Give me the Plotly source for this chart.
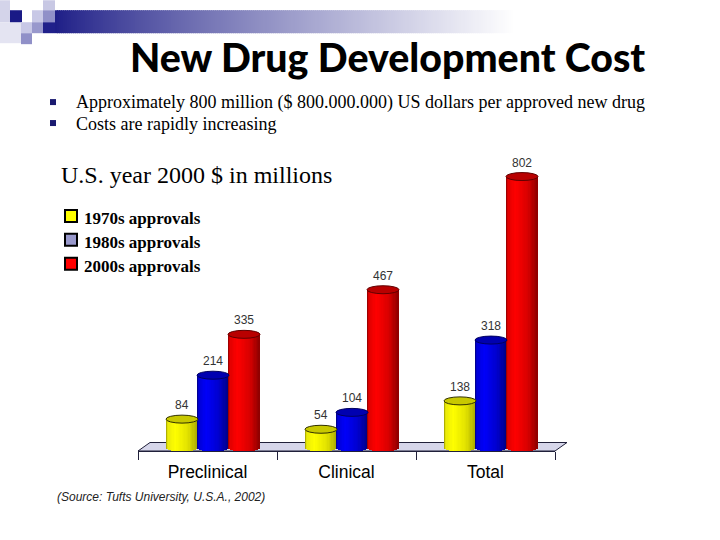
import plotly.graph_objects as go

categories = ["Preclinical", "Clinical", "Total"]
series_names = ["1970s approvals", "1980s approvals", "2000s approvals"]
approvals_1970s = [84, 54, 138]
approvals_1980s = [214, 104, 318]
approvals_2000s = [335, 467, 802]
series_values = [approvals_1970s, approvals_1980s, approvals_2000s]

W, H = 720, 540
L, R = 138, 555
Y0, PX = 448.0, 0.3384
AX_BOTTOM = 451.5
TOP = 150
ymin = -(AX_BOTTOM - Y0) / PX
ymax = (Y0 - TOP) / PX
UNIT = (R - L) / 3

SLOT_LEFT = [-41.5, -10.5, 20.5]
BAR_PX = 32
CAP_H = 4.0
STRIPS = 24


def lerp(a, b, t):
    return tuple(a[i] + (b[i] - a[i]) * t for i in range(3))


def shade(stops, t):
    for (t0, c0), (t1, c1) in zip(stops, stops[1:]):
        if t <= t1:
            c = lerp(c0, c1, (t - t0) / (t1 - t0))
            return "rgb(%d,%d,%d)" % c
    return "rgb(%d,%d,%d)" % stops[-1][1]


gradients = [
    [(0, (150, 150, 0)), (0.07, (235, 235, 10)), (0.3, (255, 255, 0)), (0.7, (225, 225, 0)), (1, (170, 170, 0))],
    [(0, (0, 0, 120)), (0.07, (0, 0, 215)), (0.3, (0, 0, 250)), (0.7, (0, 0, 205)), (1, (0, 0, 130))],
    [(0, (130, 0, 0)), (0.07, (225, 0, 0)), (0.3, (255, 0, 0)), (0.7, (215, 0, 0)), (1, (140, 0, 0))],
]
cap_colors = ["#c8c800", "#0000b0", "#b80000"]
cap_lines = ["#303000", "#000060", "#600000"]
swatch_colors = ["#ffff00", "#9999cc", "#ff0000"]

fig = go.Figure()
shapes = []
fx = lambda x: (x - L) / (R - L)
fy = lambda y: (AX_BOTTOM - y) / (AX_BOTTOM - TOP)


def px_rect(x0, y0, x1, y1, fill, line=None, lw=0, layer="below"):
    return dict(type="rect", xref="paper", yref="paper",
                x0=fx(x0), x1=fx(x1), y0=fy(y1), y1=fy(y0),
                fillcolor=fill, line=dict(color=line or fill, width=lw), layer=layer)


# header band
BAND_L, BAND_R, BAND_STEP = 55, 515, 2
for x0 in range(BAND_L, BAND_R, BAND_STEP):
    t = (x0 - BAND_L) / (BAND_R - BAND_L - BAND_STEP)
    c = lerp((30, 30, 135), (255, 255, 255), t ** 0.85)
    shapes.append(px_rect(x0, 10, x0 + BAND_STEP + 1, 33, "rgb(%d,%d,%d)" % c))

# logo squares
shapes += [
    px_rect(0, 0, 10, 22, "#d4d4ea"),
    px_rect(0, 22, 21, 43, "#e4e4f2"),
    px_rect(43, 0, 55, 10, "#c8c8e4"),
    px_rect(10, 10, 22, 22, "#1a1a86"),
    px_rect(32, 10, 43, 22, "#c8c8e6"),
    px_rect(43, 10, 55, 22, "#9090c8"),
    px_rect(21, 22, 32, 33, "#c8c8e6"),
    px_rect(32, 22, 43, 33, "#9898cc"),
    px_rect(43, 22, 55, 33, "#20208a"),
    px_rect(21, 33, 32, 44, "#9090c8"),
]

# floor
shapes.append(dict(type="path", xref="paper", yref="paper", layer="below",
                   path="M %f %f L %f %f L %f %f L %f %f Z" % (fx(L), fy(AX_BOTTOM), fx(150), fy(443),
                                                             fx(567), fy(443), fx(R), fy(AX_BOTTOM)),
                   fillcolor="#d6d6ea", line=dict(color="#20203a", width=1)))

annotations = []
for s, (name, vals) in enumerate(zip(series_names, series_values)):
    left = SLOT_LEFT[s] / UNIT
    w = BAR_PX / UNIT
    for k in range(STRIPS):
        t = (k + 0.5) / STRIPS
        u = 2 * t - 1
        drop = CAP_H * (1 - u * u) ** 0.5 / PX
        fig.add_trace(go.Bar(
            x=categories, y=[v + drop for v in vals], base=[-drop] * 3,
            width=w / STRIPS * 1.15, offset=left + w * k / STRIPS,
            marker=dict(color=shade(gradients[s], t), line_width=0),
            showlegend=False, hoverinfo="skip", name=name))
    for c, v in enumerate(vals):
        x0 = c + left
        x1 = x0 + w
        shapes.append(dict(type="circle", xref="x", yref="y", layer="above",
                           x0=x0, x1=x1, y0=v - CAP_H / PX, y1=v + CAP_H / PX,
                           fillcolor=cap_colors[s], line=dict(color=cap_lines[s], width=1)))
        annotations.append(dict(x=x0 + w / 2, y=v, xref="x", yref="y", text=str(v), showarrow=False,
                                yanchor="bottom", yshift=5, xanchor="center",
                                font=dict(family="Liberation Sans", size=12, color="#333333")))


def text_px(x, y, text, family, size, color="#000000", bold=False, italic=False, weight=None):
    if bold:
        text = "<b>%s</b>" % text
    if italic:
        text = "<i>%s</i>" % text
    font = dict(family=family, size=size, color=color)
    if weight:
        font["weight"] = weight
    annotations.append(dict(x=fx(x), y=fy(y), xref="paper", yref="paper", xanchor="left", yanchor="middle",
                            text=text, showarrow=False, font=font, borderpad=0, align="left"))


text_px(129, 56, "New Drug Development Cost", "Lato", 39.3, weight=900)
text_px(75, 102, "Approximately 800 million ($ 800.000.000) US dollars per approved new drug", "Liberation Serif", 18)
text_px(75, 123.5, "Costs are rapidly increasing", "Liberation Serif", 18)
text_px(60, 175, "U.S. year 2000 $ in millions", "Liberation Serif", 24)
for i, (name, yc) in enumerate(zip(series_names, [219, 243, 267])):
    text_px(83, yc, name, "Liberation Serif", 17, weight=700)
    shapes.append(px_rect(65, yc - 9, 77, yc + 3, swatch_colors[i], "#000000", 2, layer="above"))
text_px(56, 498, "(Source: Tufts University, U.S.A., 2002)", "Liberation Sans", 12, color="#222222", italic=True)

# bullets
for yc in (102, 123):
    shapes.append(px_rect(50, yc - 3, 56, yc + 3, "#1a1a70"))

fig.update_layout(
    width=W, height=H, autosize=False,
    margin=dict(l=L, r=W - R, t=TOP, b=H - AX_BOTTOM, pad=0),
    paper_bgcolor="white", plot_bgcolor="rgba(0,0,0,0)",
    barmode="overlay", bargap=0, showlegend=False,
    shapes=shapes, annotations=annotations,
    xaxis=dict(type="category", categoryorder="array", categoryarray=categories, tickson="boundaries",
               range=[-0.5, 2.5], ticks="outside", ticklen=8, tickcolor="#20203a", tickwidth=1,
               ticklabelstandoff=5,
               showline=True, linecolor="#20203a", showgrid=False, zeroline=False,
               tickfont=dict(family="Liberation Sans", size=17.5, color="#000000")),
    yaxis=dict(range=[ymin, ymax], visible=False, showgrid=False, zeroline=False),
)
fig.write_html("out.html", config=dict(displayModeBar=False),
               post_script="document.body.style.margin='0';document.documentElement.style.overflow='hidden';")
